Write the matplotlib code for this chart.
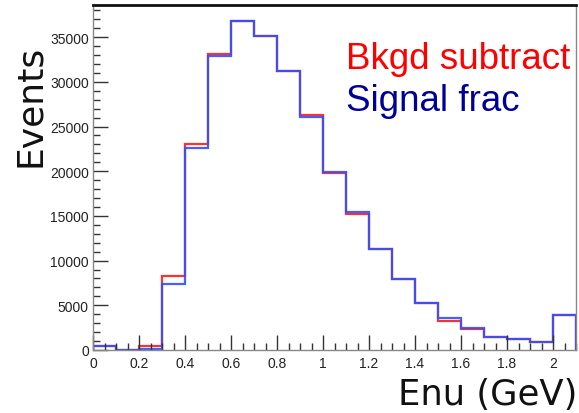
import numpy as np
import matplotlib
matplotlib.use("Agg")
import matplotlib.pyplot as plt
from matplotlib.ticker import MultipleLocator, FormatStrFormatter

# neutrino energy bins (GeV), 0.1 wide
bin_edges = np.linspace(0.0, 2.1, 22)
bkgd_subtract = [480, 0, 480, 8250, 23000, 33100, 36800, 35100, 31200, 26240, 19850,
                 15260, 11350, 7900, 5250, 3300, 2400, 1490, 1200, 930, 3880]
signal_frac = [480, 0, 150, 7360, 22550, 32900, 36800, 35100, 31200, 26060, 19930,
               15420, 11250, 7950, 5300, 3550, 2430, 1490, 1200, 930, 3880]
x_ticks = [0, 0.2, 0.4, 0.6, 0.8, 1.0, 1.2, 1.4, 1.6, 1.8, 2.0]
y_ticks = [0, 5000, 10000, 15000, 20000, 25000, 30000, 35000]

fig = plt.figure(figsize=(5.79, 4.14), dpi=100)
ax = fig.add_axes([93/579, 1 - 351/414, (576 - 93)/579, (351 - 6)/414])

ax.stairs(bkgd_subtract, bin_edges, color="#ff3030", lw=1.6)
ax.stairs(signal_frac, bin_edges, color="#3050ff", lw=1.6, alpha=0.9)

ax.set_xlim(0, 2.1)
ax.set_ylim(0, 38600)
ax.set_xticks(x_ticks)
ax.set_yticks(y_ticks)
ax.xaxis.set_major_formatter(FormatStrFormatter("%g"))
ax.xaxis.set_minor_locator(MultipleLocator(0.05))
ax.yaxis.set_minor_locator(MultipleLocator(1000))
ax.tick_params(which="both", direction="in", color="#333333", width=1.0,
               labelsize=10, labelcolor="#222222")
ax.tick_params(which="major", length=11)
ax.tick_params(which="minor", length=5)
ax.tick_params(axis="y", pad=3)
ax.tick_params(axis="x", pad=4)
for lbl in ax.get_xticklabels() + ax.get_yticklabels():
    lbl.set_family("Liberation Sans")

for side in ["left", "bottom", "right"]:
    ax.spines[side].set_color("#888888")
    ax.spines[side].set_linewidth(1.0)
ax.spines["top"].set_color("#111111")
ax.spines["top"].set_linewidth(2.0)

fig.text(346/579, 1 - 69/414, "Bkgd subtract", color="#ff0000", fontsize=26.5,
         family="Liberation Sans", va="baseline", ha="left")
fig.text(346/579, 1 - 111/414, "Signal frac", color="#000099", fontsize=26.5,
         family="Liberation Sans", va="baseline", ha="left")

fig.text(30/579, 1 - 106/414, "Events", rotation=90, fontsize=26,
         family="DejaVu Sans", ha="center", va="center", color="#111111")
fig.text(577/579, 1 - 405/414, "Enu (GeV)", fontsize=25.5,
         family="DejaVu Sans", ha="right", va="baseline", color="#111111")

fig.savefig("out.png", dpi=100)
